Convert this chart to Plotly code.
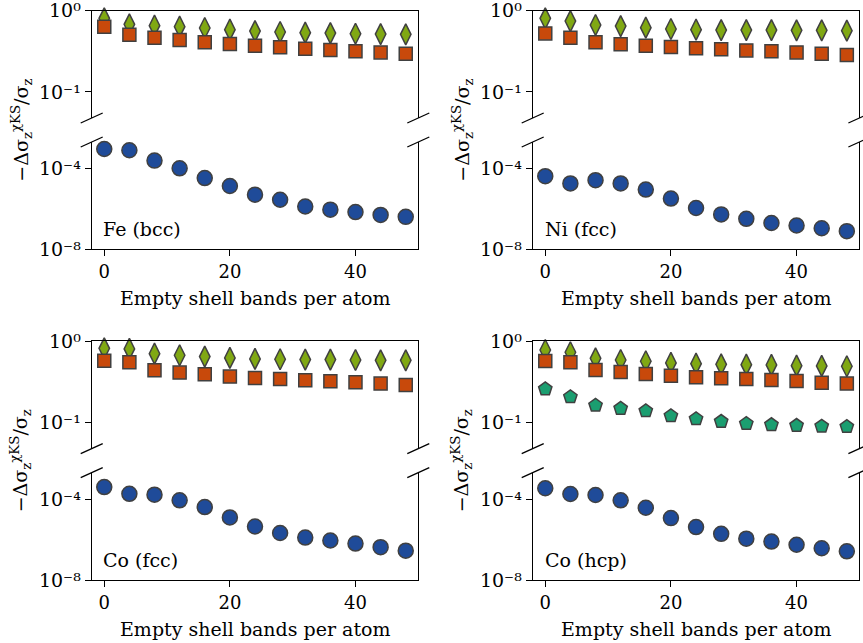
import plotly.graph_objects as go

# ---------------- data ----------------
bands = [0, 4, 8, 12, 16, 20, 24, 28, 32, 36, 40, 44, 48]
panel_labels = ["Fe (bcc)", "Ni (fcc)", "Co (fcc)", "Co (hcp)"]

fe_diamond = [0.805, 0.679, 0.654, 0.636, 0.612, 0.584, 0.562, 0.547, 0.537, 0.531, 0.521, 0.516, 0.512]
fe_square = [0.636, 0.507, 0.466, 0.436, 0.408, 0.389, 0.371, 0.354, 0.341, 0.328, 0.316, 0.307, 0.296]
fe_circle = [9.0e-4, 7.8e-4, 2.4e-4, 1.0e-4, 3.3e-5, 1.34e-5, 5.0e-6, 2.8e-6, 1.3e-6, 9.1e-7, 6.9e-7, 5.0e-7, 4.0e-7]

ni_diamond = [0.805, 0.746, 0.667, 0.647, 0.618, 0.596, 0.584, 0.578, 0.578, 0.578, 0.573, 0.573, 0.568]
ni_square = [0.526, 0.466, 0.408, 0.386, 0.371, 0.357, 0.344, 0.335, 0.325, 0.316, 0.307, 0.296, 0.285]
ni_circle = [4.1e-5, 1.8e-5, 2.6e-5, 1.8e-5, 8.9e-6, 3.2e-6, 1.1e-6, 5.3e-7, 3.2e-7, 2.0e-7, 1.5e-7, 1.1e-7, 7.9e-8]

cofcc_diamond = [0.82, 0.805, 0.705, 0.673, 0.648, 0.624, 0.607, 0.601, 0.596, 0.596, 0.589, 0.584, 0.584]
cofcc_square = [0.578, 0.552, 0.440, 0.412, 0.393, 0.368, 0.354, 0.344, 0.331, 0.322, 0.313, 0.302, 0.290]
cofcc_circle = [3.9e-4, 1.8e-4, 1.64e-4, 8.6e-5, 4.0e-5, 1.23e-5, 4.4e-6, 2.1e-6, 1.25e-6, 8.9e-7, 6.3e-7, 4.2e-7, 2.8e-7]

cohcp_diamond = [0.782, 0.733, 0.618, 0.589, 0.568, 0.542, 0.531, 0.521, 0.516, 0.512, 0.502, 0.498, 0.493]
cohcp_square = [0.573, 0.552, 0.445, 0.420, 0.397, 0.378, 0.361, 0.351, 0.344, 0.335, 0.325, 0.310, 0.302]
cohcp_pentagon = [0.259, 0.207, 0.163, 0.149, 0.139, 0.121, 0.111, 0.103, 0.097, 0.094, 0.092, 0.090, 0.089]
cohcp_circle = [3.4e-4, 1.77e-4, 1.58e-4, 8.6e-5, 3.7e-5, 1.14e-5, 4.1e-6, 1.9e-6, 1.1e-6, 7.9e-7, 5.5e-7, 3.7e-7, 2.6e-7]

upper_series = [
    [("diamond", fe_diamond), ("square", fe_square)],
    [("diamond", ni_diamond), ("square", ni_square)],
    [("diamond", cofcc_diamond), ("square", cofcc_square)],
    [("pentagon", cohcp_pentagon), ("diamond", cohcp_diamond), ("square", cohcp_square)],
]
lower_series = [fe_circle, ni_circle, cofcc_circle, cohcp_circle]

upper_ticks = [1, 0.1]
upper_ticktext = ["10⁰", "10⁻¹"]
lower_ticks = [1e-4, 1e-8]
lower_ticktext = ["10⁻⁴", "10⁻⁸"]
x_ticks = [0, 20, 40]

# ---------------- style ----------------
W, H = 863, 643
FONT = "DejaVu Serif, Liberation Serif, serif"
EDGE = "#404040"
styles = {
    "diamond": dict(symbol="diamond-tall", size=15, color="#80a813"),
    "square": dict(symbol="square", size=13, color="#c8490b"),
    "pentagon": dict(symbol="pentagon", size=14, color="#1b9e70"),
    "circle": dict(symbol="circle", size=15, color="#1f4b99"),
}

cols = [(91.7, 418.3), (532.7, 859.4)]
rows = [((10.7, 118.0), (142.0, 249.3)), ((341.3, 448.6), (472.7, 580.0))]


def px_x(v):
    return v / W


def px_y(v):
    return 1 - v / H


fig = go.Figure()
layout = dict(
    template="none",
    width=W, height=H, margin=dict(l=0, r=0, t=0, b=0, autoexpand=False),
    paper_bgcolor="white", plot_bgcolor="white", showlegend=False,
    font=dict(family=FONT, size=18, color="black"),
)
shapes = []
annotations = []

ax_n = 0
for p in range(4):
    c = cols[p % 2]
    r = rows[p // 2]
    xdom = [px_x(c[0]), px_x(c[1])]
    for part in range(2):
        ax_n += 1
        sfx = "" if ax_n == 1 else str(ax_n)
        ytop, ybot = r[part]
        ydom = [px_y(ybot), px_y(ytop)]
        xa = dict(domain=xdom, range=[-2, 50], anchor="y" + sfx, showline=True, automargin=False,
                  linecolor="black", linewidth=1.3, showgrid=False, zeroline=False,
                  ticklabeloverflow="allow")
        if part == 0:
            xa.update(side="top", showticklabels=False, ticks="")
            ya = dict(range=[-1.32, 0], tickvals=upper_ticks, ticktext=upper_ticktext)
        else:
            xa.update(side="bottom", tickvals=x_ticks, ticks="outside", ticklen=6,
                      tickwidth=1.3, tickcolor="black", tickfont=dict(size=18, family=FONT))
            ya = dict(range=[-8, -2.7], tickvals=lower_ticks, ticktext=lower_ticktext)
        ya.update(domain=ydom, type="log", anchor="x" + sfx, showline=True, mirror=True,
                  automargin=False, ticklabeloverflow="allow",
                  linecolor="black", linewidth=1.3, ticks="outside", ticklen=6,
                  tickwidth=1.3, tickcolor="black", showgrid=False, zeroline=False,
                  tickfont=dict(size=19, family=FONT))
        layout["xaxis" + sfx] = xa
        layout["yaxis" + sfx] = ya

        if part == 0:
            for kind, vals in upper_series[p]:
                st = styles[kind]
                fig.add_trace(go.Scatter(
                    x=bands, y=vals, mode="markers", xaxis="x" + sfx, yaxis="y" + sfx,
                    cliponaxis=False,
                    marker=dict(symbol=st["symbol"], size=st["size"], color=st["color"],
                                line=dict(color=EDGE, width=1.5))))
        else:
            st = styles["circle"]
            fig.add_trace(go.Scatter(
                x=bands, y=lower_series[p], mode="markers", xaxis="x" + sfx, yaxis="y" + sfx,
                cliponaxis=False,
                marker=dict(symbol=st["symbol"], size=st["size"], color=st["color"],
                            line=dict(color=EDGE, width=1.5))))
            annotations.append(dict(
                text=panel_labels[p], xref="x" + sfx + " domain", yref="y" + sfx + " domain",
                x=0.03, y=0.19, xanchor="left", yanchor="middle", showarrow=False,
                font=dict(size=19, family=FONT)))

    # break marks
    for yb in (rows[p // 2][0][1], rows[p // 2][1][0]):
        for xs in c:
            shapes.append(dict(type="line", xref="paper", yref="paper",
                               x0=px_x(xs - 11), y0=px_y(yb + 5),
                               x1=px_x(xs + 11), y1=px_y(yb - 5),
                               line=dict(color="black", width=1.3)))

    # x label
    annotations.append(dict(
        text="Empty shell bands per atom", xref="paper", yref="paper",
        x=px_x((c[0] + c[1]) / 2), y=px_y(r[1][1] + 49), xanchor="center", yanchor="middle",
        showarrow=False, font=dict(size=19, family=FONT)))
    # y label
    annotations.append(dict(
        text="−Δσ<sub>z</sub><sup>χKS</sup>/σ<sub>z</sub>", xref="paper", yref="paper",
        x=px_x(c[0] - 71), y=px_y((r[0][0] + r[1][1]) / 2), xanchor="center", yanchor="middle",
        textangle=-90, showarrow=False, font=dict(size=19, family=FONT)))

layout["shapes"] = shapes
layout["annotations"] = annotations
fig.update_layout(**layout)
fig.write_html("out.html")
